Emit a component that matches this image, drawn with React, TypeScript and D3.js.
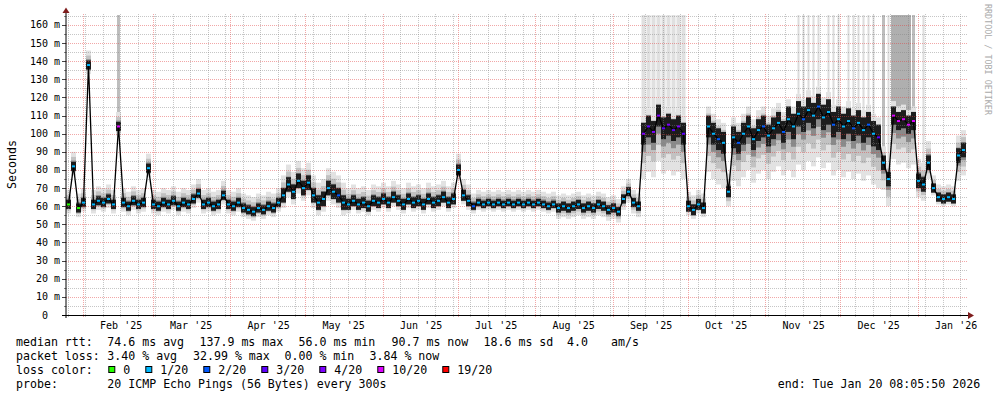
import { useEffect, useRef } from 'react';
import * as d3 from 'd3';

const START = new Date(Date.UTC(2025, 0, 25, 8, 5, 50));
const END = new Date(Date.UTC(2026, 0, 20, 8, 5, 50));
const BUCKET_DAYS = 2;
const Y_MAX = 165.5;

// median rtt in ms, one value per 2-day bucket starting at START
const medianMs = [
  61, 82, 59, 62, 137.9, 61, 63, 62, 64, 61, 104, 62, 60, 63,
  61, 62, 81, 61, 60, 62, 61, 63, 60, 62, 61, 64, 67, 61,
  62, 60, 61, 66, 61, 60, 62, 59, 58, 57, 59, 58, 60, 59,
  62, 66, 72, 68, 74, 70, 73, 66, 62, 64, 70, 68, 66, 62,
  61, 63, 61, 62, 60, 63, 62, 64, 62, 65, 63, 61, 64, 62,
  63, 61, 64, 62, 63, 65, 62, 64, 80, 66, 63, 60, 62, 61,
  62, 61, 62, 61, 62, 61, 62, 61, 62, 61, 62, 61, 60, 61,
  59, 60, 59, 60, 61, 59, 60, 59, 61, 60, 58, 59, 57, 64,
  68, 62, 60, 100, 104, 101, 110, 103, 105, 102, 104, 100, 60, 58,
  61, 59, 104, 100, 97, 95, 68, 98, 95, 100, 104, 97, 102, 104,
  99, 103, 106, 101, 108, 104, 111, 108, 113, 110, 115, 109, 112, 105,
  108, 104, 107, 103, 106, 102, 105, 100, 98, 84, 75, 110, 107, 108,
  105, 107, 74, 72, 84, 70, 65, 64, 65, 64, 88, 91,
];

// loss class per bucket (index into lossLabels / lossColors)
const lossIdx = [
  0, 1, 0, 1, 1, 1, 1, 1, 1, 1, 5, 1, 1, 1,
  1, 1, 1, 1, 1, 1, 1, 1, 1, 1, 1, 1, 1, 1,
  1, 1, 1, 1, 1, 1, 1, 1, 1, 1, 1, 1, 1, 1,
  1, 1, 1, 1, 1, 1, 1, 1, 1, 1, 1, 1, 2, 1,
  1, 1, 1, 1, 1, 1, 1, 1, 1, 1, 1, 1, 1, 1,
  1, 1, 1, 1, 1, 1, 1, 1, 1, 1, 1, 2, 1, 1,
  1, 1, 1, 1, 1, 1, 1, 1, 1, 1, 1, 1, 1, 1,
  1, 1, 1, 1, 1, 1, 1, 1, 1, 1, 1, 1, 1, 1,
  1, 1, 1, 4, 3, 4, 4, 3, 4, 3, 4, 3, 1, 1,
  1, 1, 1, 1, 2, 1, 1, 1, 2, 1, 1, 1, 1, 2,
  1, 1, 1, 2, 1, 1, 1, 2, 1, 1, 2, 1, 1, 2,
  1, 1, 1, 2, 1, 1, 2, 1, 3, 1, 1, 5, 5, 5,
  5, 5, 1, 1, 1, 1, 1, 1, 1, 1, 1, 1,
];

// grey "lost ping" spikes to the top: 0 none, 1 thin light, 2 wide light, 3 medium, 4 dark
const lossSpike = [
  0, 0, 0, 0, 0, 0, 0, 0, 0, 0, 3, 0, 0, 0,
  0, 0, 0, 0, 0, 0, 0, 0, 0, 0, 0, 0, 0, 0,
  0, 0, 0, 0, 0, 0, 0, 0, 0, 0, 0, 0, 0, 0,
  0, 0, 0, 0, 0, 0, 0, 0, 0, 0, 0, 0, 0, 0,
  0, 0, 0, 0, 0, 0, 0, 0, 0, 0, 0, 0, 0, 0,
  0, 0, 0, 0, 0, 0, 0, 0, 0, 0, 0, 0, 0, 0,
  0, 0, 0, 0, 0, 0, 0, 0, 0, 0, 0, 0, 0, 0,
  0, 0, 0, 0, 0, 0, 0, 0, 0, 0, 0, 0, 0, 0,
  0, 0, 0, 2, 2, 2, 2, 2, 2, 2, 2, 2, 0, 0,
  0, 0, 0, 0, 0, 0, 0, 0, 0, 0, 0, 0, 0, 0,
  0, 0, 0, 0, 0, 0, 1, 1, 1, 1, 1, 0, 1, 1,
  1, 0, 1, 1, 1, 1, 1, 1, 0, 3, 1, 4, 4, 4,
  4, 3, 0, 1, 0, 0, 0, 0, 0, 0, 0, 0,
];

// smoke spread per period: ms below / above the median, and the dark core half-width
const smokeFrom = [
  '2025-01-25', '2025-04-21', '2025-05-17', '2025-07-06', '2025-08-09', '2025-09-12', '2025-09-30',
  '2025-10-08', '2025-10-16', '2025-10-18', '2025-11-09', '2025-12-17', '2025-12-21', '2025-12-31',
  '2026-01-06', '2026-01-16',
];
const smokeBelow = [5, 7, 5, 4, 6, 25, 5, 25, 8, 24, 28, 15, 24, 9, 4, 14];
const smokeAbove = [8, 11, 9, 7, 7, 10, 8, 11, 10, 11, 11, 9, 8, 12, 7, 11];
const smokeCore = [2.5, 4, 3, 2, 2.5, 6, 3, 6, 3, 6, 7, 4, 5, 4, 2.5, 4];

const yTickValues = [0, 10, 20, 30, 40, 50, 60, 70, 80, 90, 100, 110, 120, 130, 140, 150, 160];

const lossLabels = ['0', '1/20', '2/20', '3/20', '4/20', '10/20', '19/20'];
const lossColors = ['#26ff00', '#00b8ff', '#0059ff', '#5e00ff', '#7e00ff', '#dd00ff', '#ff0000'];

const rttStats = ['74.6 ms avg', '137.9 ms max', '56.0 ms min', '90.7 ms now', '18.6 ms sd', '4.0', 'am/s'];
const lossStats = ['3.40 % avg', '32.99 % max', '0.00 % min', '3.84 % now'];
const probeText = '20 ICMP Echo Pings (56 Bytes) every 300s';
const endText = 'end: Tue Jan 20 08:05:50 2026';

export default function SmokePingChart() {
  const ref = useRef<SVGSVGElement | null>(null);

  useEffect(() => {
    if (!ref.current) return;

    const svg = d3.select(ref.current);
    svg.selectAll('*').remove();

    const width = 997;
    const height = 397;
    const plot = { left: 66, right: 966, top: 15, bottom: 315 };
    const mono = "'DejaVu Sans Mono', monospace";
    const dayMs = 86400000;

    svg
      .attr('width', width)
      .attr('height', height)
      .style('position', 'absolute')
      .style('left', 0)
      .style('top', 0);

    svg.append('rect').attr('width', width).attr('height', height).attr('fill', '#fff');

    const x = d3.scaleUtc().domain([START, END]).range([plot.left, plot.right]);
    const y = d3.scaleLinear().domain([0, Y_MAX]).range([plot.bottom, plot.top]);

    const buckets = medianMs.map((m, i) => {
      const t0 = new Date(START.getTime() + i * BUCKET_DAYS * dayMs);
      const t1 = new Date(t0.getTime() + BUCKET_DAYS * dayMs);
      const mid = new Date(t0.getTime() + (BUCKET_DAYS * dayMs) / 2);
      let s = 0;
      smokeFrom.forEach((d, k) => {
        if (new Date(d) <= mid) s = k;
      });
      return {
        t0, t1, mid, median: m,
        below: smokeBelow[s], above: smokeAbove[s], core: smokeCore[s],
        loss: lossIdx[i], spike: lossSpike[i],
      };
    });
    type Bucket = (typeof buckets)[number];

    // smoke
    const layers = [
      { f: 1, color: '#e2e2e2' },
      { f: 0.65, color: '#c2c2c2' },
      { f: 0.4, color: '#8a8a8a' },
    ];
    const smoke = svg.append('g');
    const band = (lo: (d: Bucket) => number, hi: (d: Bucket) => number, color: string) =>
      smoke.append('g')
        .selectAll('rect')
        .data(buckets)
        .join('rect')
        .attr('x', (d) => x(d.t0))
        .attr('width', (d) => x(d.t1) - x(d.t0))
        .attr('y', (d) => y(hi(d)))
        .attr('height', (d) => y(lo(d)) - y(hi(d)))
        .attr('fill', color);
    layers.forEach((layer) =>
      band((d) => d.median - layer.f * d.below, (d) => d.median + layer.f * d.above, layer.color));
    band((d) => d.median - d.core, (d) => d.median + d.core, '#1c1c1c');

    // loss spikes
    const spikeColor = ['none', '#dcdcdc', '#e0e0e0', '#bdbdbd', '#afafaf'];
    const spikeWidth = [0, 2, 4, 3, 5];
    svg.append('g')
      .selectAll('rect')
      .data(buckets.filter((d) => d.spike > 0))
      .join('rect')
      .attr('x', (d) => x(d.mid) - spikeWidth[d.spike] / 2)
      .attr('width', (d) => spikeWidth[d.spike])
      .attr('y', y(Y_MAX))
      .attr('height', (d) => y(d.median + d.above) - y(Y_MAX))
      .attr('fill', (d) => spikeColor[d.spike]);

    // grid (drawn over the data like rrdtool)
    const grid = svg.append('g');
    const minorColor = 'rgba(128,128,128,0.45)';
    const majorColor = 'rgba(225,60,60,0.45)';
    const minorY = d3.range(5, Y_MAX, 10);
    minorY.forEach((v) => {
      const yy = Math.round(y(v)) + 0.5;
      grid.append('line')
        .attr('x1', plot.left).attr('x2', plot.right + 2)
        .attr('y1', yy).attr('y2', yy)
        .attr('stroke', minorColor)
        .attr('stroke-dasharray', '1,1');
    });
    yTickValues.filter((v) => v > 0).forEach((v) => {
      const yy = Math.round(y(v)) + 0.5;
      grid.append('line')
        .attr('x1', plot.left).attr('x2', plot.right + 2)
        .attr('y1', yy).attr('y2', yy)
        .attr('stroke', majorColor)
        .attr('stroke-dasharray', '1,1');
    });

    const months = d3.utcMonth.range(START, END);
    const weeks = d3.utcSunday.range(START, END).filter((d) => d.getUTCDate() !== 1);
    weeks.forEach((d) => {
      const xx = Math.round(x(d)) + 0.5;
      grid.append('line')
        .attr('x1', xx).attr('x2', xx)
        .attr('y1', plot.top - 1).attr('y2', plot.bottom + 2)
        .attr('stroke', minorColor)
        .attr('stroke-dasharray', '1,1');
    });
    months.forEach((d) => {
      const xx = Math.round(x(d)) + 0.5;
      grid.append('line')
        .attr('x1', xx).attr('x2', xx)
        .attr('y1', plot.top - 1).attr('y2', plot.bottom + 3)
        .attr('stroke', majorColor)
        .attr('stroke-dasharray', '1,1');
    });

    // median line + loss colored marks
    const line = d3.line<Bucket>()
      .x((d) => x(d.mid))
      .y((d) => y(d.median));
    svg.append('path')
      .attr('d', line(buckets)!)
      .attr('fill', 'none')
      .attr('stroke', '#000')
      .attr('stroke-width', 1.3);

    svg.append('g')
      .selectAll('rect')
      .data(buckets)
      .join('rect')
      .attr('x', (d) => x(d.mid) - 1.5)
      .attr('y', (d) => y(d.median) - 1)
      .attr('width', 3)
      .attr('height', 2)
      .attr('fill', (d) => lossColors[d.loss]);

    // axes
    yTickValues.forEach((v) => {
      const yy = Math.round(y(v)) + 0.5;
      svg.append('line')
        .attr('x1', plot.left - 4).attr('x2', plot.left)
        .attr('y1', yy).attr('y2', yy)
        .attr('stroke', '#444');
      svg.append('text')
        .attr('x', 60)
        .attr('y', y(v) + 3.5)
        .attr('text-anchor', 'end')
        .attr('font-family', mono)
        .attr('font-size', '10px')
        .style('white-space', 'pre')
        .text(v === 0 ? '0  ' : `${v} m`);
    });
    minorY.forEach((v) => {
      const yy = Math.round(y(v)) + 0.5;
      svg.append('line')
        .attr('x1', plot.left - 2).attr('x2', plot.left)
        .attr('y1', yy).attr('y2', yy)
        .attr('stroke', '#888');
    });

    svg.append('line')
      .attr('x1', plot.left).attr('x2', plot.left)
      .attr('y1', plot.bottom + 3).attr('y2', 12)
      .attr('stroke', '#000');
    svg.append('line')
      .attr('x1', plot.left - 4).attr('x2', plot.right + 4)
      .attr('y1', plot.bottom + 0.5).attr('y2', plot.bottom + 0.5)
      .attr('stroke', '#000');

    svg.append('path')
      .attr('d', `M${plot.left - 3.5},13 L${plot.left},7.5 L${plot.left + 3.5},13 Z`)
      .attr('fill', '#7f1d1d');
    svg.append('path')
      .attr('d', `M${plot.right + 2},${plot.bottom - 3} L${plot.right + 8},${plot.bottom + 0.5} L${plot.right + 2},${plot.bottom + 4} Z`)
      .attr('fill', '#7f1d1d');

    const fmt = d3.utcFormat("%b '%y");
    months.forEach((d) => {
      svg.append('text')
        .attr('x', x(new Date(d.getTime() + 15.4 * dayMs)))
        .attr('y', 329)
        .attr('text-anchor', 'middle')
        .attr('font-family', mono)
        .attr('font-size', '10px')
        .text(fmt(d));
    });

    svg.append('text')
      .attr('transform', 'translate(15.5,164.5) rotate(-90)')
      .attr('text-anchor', 'middle')
      .attr('font-family', mono)
      .attr('font-size', '11.6px')
      .text('Seconds');

    svg.append('text')
      .attr('transform', 'translate(984.5,4) rotate(90)')
      .attr('font-family', mono)
      .attr('font-size', '8.4px')
      .attr('fill', '#aaa')
      .text('RRDTOOL / TOBI OETIKER');

    // legend
    const legendFont = '11.6px';
    const rows = [346, 359.5, 373.5, 387.5];
    const put = (tx: number, ty: number, s: string) =>
      svg.append('text')
        .attr('x', tx)
        .attr('y', ty)
        .attr('font-family', mono)
        .attr('font-size', legendFont)
        .style('white-space', 'pre')
        .text(s);

    put(16, rows[0], 'median rtt:');
    const rttX = [107.3, 199.5, 298.5, 391.5, 483.5, 567, 611];
    rttStats.forEach((s, i) => put(rttX[i], rows[0], s));

    put(16, rows[1], 'packet loss:');
    const lossX = [107.3, 193, 284.5, 369.5];
    lossStats.forEach((s, i) => put(lossX[i], rows[1], s));

    put(16, rows[2], 'loss color:');
    let bx = 108.3;
    lossLabels.forEach((label, i) => {
      svg.append('rect')
        .attr('x', bx + 0.5)
        .attr('y', 366.5)
        .attr('width', 6)
        .attr('height', 6)
        .attr('fill', lossColors[i])
        .attr('stroke', '#000');
      put(bx + 15, rows[2], label);
      bx += 15 + label.length * 7 + 15;
    });

    put(16, rows[3], 'probe:');
    put(107.3, rows[3], probeText);
    put(777.7, rows[3], endText);
  }, []);

  return <svg ref={ref}></svg>;
}
